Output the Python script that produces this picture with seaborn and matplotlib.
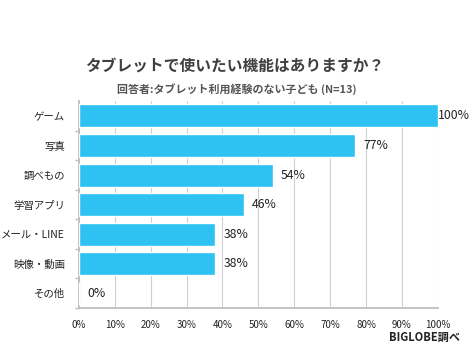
import matplotlib
matplotlib.use("Agg")
import matplotlib.pyplot as plt
import seaborn as sns
import pandas as pd
import numpy as np

categories = ["ゲーム", "写真", "調べもの", "学習アプリ", "メール・LINE", "映像・動画", "その他"]
values = [100, 77, 54, 46, 38, 38, 0]
xticks = [0, 10, 20, 30, 40, 50, 60, 70, 80, 90, 100]

sns.set_theme(style="white")
plt.rcParams["font.family"] = ["Noto Sans CJK JP", "DejaVu Sans"]

df = pd.DataFrame({"item": categories, "pct": values})

fig = plt.figure(figsize=(4.77, 3.5), dpi=100)
ax = fig.add_axes([0.1656, 0.12, 0.752, 0.591])

sns.barplot(data=df, x="pct", y="item", color="#2EC2F2", width=0.78,
            saturation=1, ax=ax, zorder=3)

ax.set_xlim(0, 100)
ax.set_xticks(xticks)
ax.set_xticklabels([f"{t}%" for t in xticks], fontsize=7, color="#222222")
ax.tick_params(axis="y", labelsize=7.5, labelcolor="#222222", length=0, pad=10)
# small separators between categories on the left axis
ax.set_yticks(np.arange(len(categories)) + 0.5, minor=True)
ax.tick_params(axis="y", which="minor", length=3, color="#bdbdbd", left=True)
ax.set_xlabel("")
ax.set_ylabel("")
ax.grid(axis="x", color="#d0d0d0", linewidth=0.8, zorder=0)
for s in ["top", "right"]:
    ax.spines[s].set_visible(False)
ax.spines["left"].set_color("#bdbdbd")
ax.spines["bottom"].set_color("#bdbdbd")
ax.tick_params(axis="x", length=3, color="#bdbdbd", pad=6)

for i, v in enumerate(values):
    ax.text(v + 2.2 if v < 100 else v, i, f"{v}%", va="center", ha="left",
            fontsize=8.8, color="#222222")

fig.text(0.493, 0.812, "タブレットで使いたい機能はありますか？", ha="center", va="center",
         fontsize=11.3, fontweight="bold", color="#404040")
fig.text(0.497, 0.745, "回答者:タブレット利用経験のない子ども (N=13)", ha="center", va="center",
         fontsize=7.9, fontweight="bold", color="#555555")
fig.text(0.965, 0.035, "BIGLOBE調べ", ha="right", va="center",
         fontsize=8, fontweight="bold", color="#222222")

fig.savefig("out.png", dpi=100)
